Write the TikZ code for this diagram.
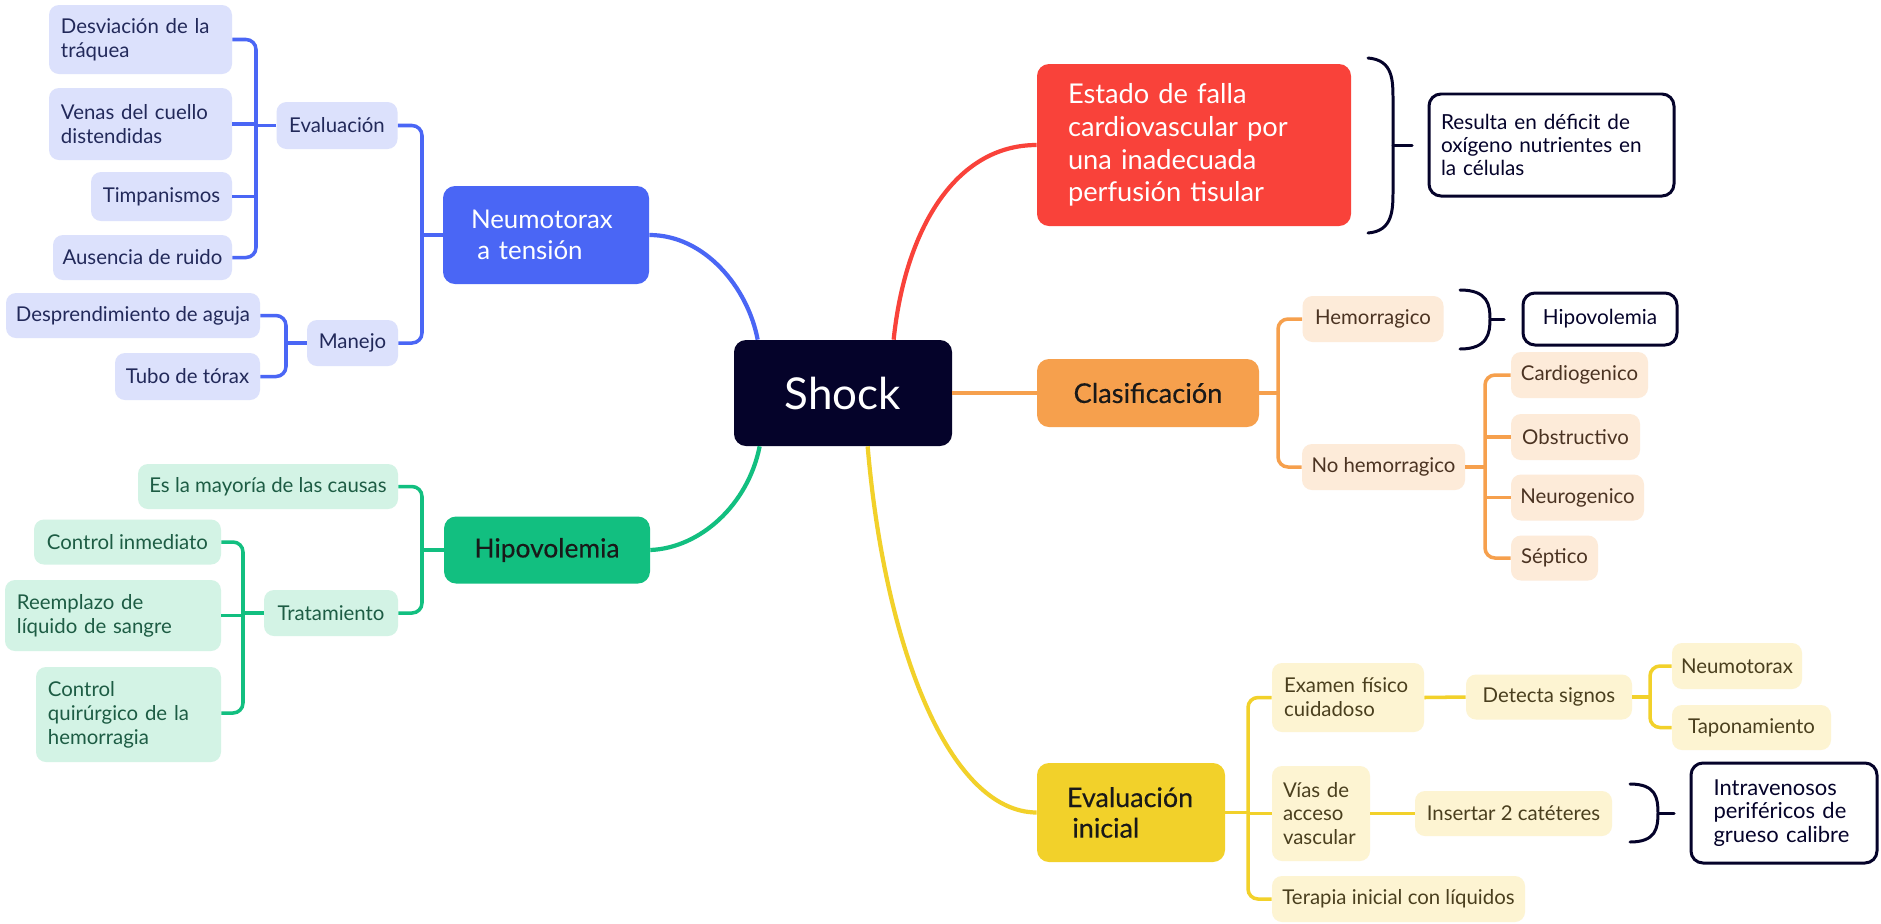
\documentclass[tikz,border=0pt]{standalone}
\usepackage{fontspec}
\setmainfont{Lato}
\newfontfamily\medfont[FakeBold=0.35]{Lato}
\usetikzlibrary{calc}
\definecolor{navy}{HTML}{05032A}
\definecolor{cblue}{HTML}{4A66F5}
\definecolor{cgreen}{HTML}{12BF80}
\definecolor{cred}{HTML}{F9423A}
\definecolor{corange}{HTML}{F6A04D}
\definecolor{cyellow}{HTML}{F2D12A}
\definecolor{lblue}{HTML}{DCE1FC}
\definecolor{lgreen}{HTML}{D3F3E5}
\definecolor{lorange}{HTML}{FDEBD9}
\definecolor{lyellow}{HTML}{FDF4D2}
\definecolor{tblue}{HTML}{22295A}
\definecolor{tgreen}{HTML}{1D5C44}
\definecolor{torange}{HTML}{4B3322}
\definecolor{tyellow}{HTML}{4A3F1E}
\tikzset{
  bx/.style 2 args={minimum width=#1*0.2mm, minimum height=#2*0.2mm, inner sep=0pt, align=left, rounded corners=2mm},
  small/.style={font=\fontsize{11.6}{13.6}\selectfont},
  bch/.style={small, fill=lblue, text=tblue},
  gch/.style={small, fill=lgreen, text=tgreen},
  och/.style={small, fill=lorange, text=torange},
  ych/.style={small, fill=lyellow, text=tyellow},
  outl/.style={draw=navy, line width=1.7pt, fill=white, text=navy, rounded corners=2.4mm},
  tconn/.style={line width=2pt, rounded corners=2mm},
  mconn/.style={line width=2.4pt},
  brk/.style={draw=navy, line width=1.7pt, line cap=round},
}
\begin{document}
\begin{tikzpicture}[x=0.2mm,y=-0.2mm]
\fill[white] (0,0) rectangle (1881,923);
\useasboundingbox (0,0) rectangle (1881,923);

% ---- centre
\node[bx={218}{106}, fill=navy, text=white, font=\fontsize{25}{30}\selectfont, rounded corners=2.4mm] (shock) at (843,393) {Shock};

% ---- blue branch
\node[bx={206}{98}, fill=cblue, text=white, font=\fontsize{14.7}{18}\selectfont, text width=30mm, rounded corners=2.4mm] (neumo) at (546,235) {Neumotorax\\\hspace*{0.25em}a tensión};
\node[bx={121}{47}, bch] (evalb) at (337,125.5) {Evaluación};
\node[bx={91}{46}, bch] (manejo) at (352.5,343) {Manejo};
\node[bx={183}{69}, bch, text width=31.8mm] (desv) at (140.5,39.5) {Desviación de la\\tráquea};
\node[bx={183}{72}, bch, text width=31.8mm] (venas) at (140.5,124) {Venas del cuello\\distendidas};
\node[bx={141}{49}, bch] (timp) at (161.5,196.5) {Timpanismos};
\node[bx={179}{45}, bch] (ausen) at (142.5,257.5) {Ausencia de ruido};
\node[bx={254}{45}, bch] (despr) at (133,315.5) {Desprendimiento de aguja};
\node[bx={145}{47}, bch] (tubo) at (187.5,376.5) {Tubo de tórax};

% ---- green branch
\node[bx={206}{67}, fill=cgreen, text=black!90, font=\medfont\fontsize{15}{17.6}\selectfont, rounded corners=2.4mm] (hipo) at (547,550) {Hipovolemia};
\node[bx={260}{45}, gch] (mayor) at (268,486.5) {Es la mayoría de las causas};
\node[bx={134}{46}, gch] (trat) at (331,613) {Tratamiento};
\node[bx={187}{45}, gch] (ctrl) at (127.5,542) {Control inmediato};
\node[bx={216}{71}, gch, text width=38.4mm] (reemp) at (113,615.5) {Reemplazo de\\líquido de sangre};
\node[bx={185}{95}, gch, text width=32.2mm] (quir) at (128.5,714.5) {Control\\quirúrgico de la\\hemorragia};

% ---- red branch
\node[bx={314}{162}, fill=cred, text=white, font=\fontsize{15.5}{18.7}\selectfont, text width=50.4mm, rounded corners=2.4mm] (estado) at (1194,145) {Estado de falla\\cardiovascular por\\una inadecuada\\perfusión tisular};
\node[bx={245}{102}, outl, font=\fontsize{11.8}{13.2}\selectfont, text width=44.2mm] (resulta) at (1551.5,145) {Resulta en déficit de\\oxígeno nutrientes en\\la células};

% ---- orange branch
\node[bx={222}{68}, fill=corange, text=black!90, font=\medfont\fontsize{15.5}{18}\selectfont, rounded corners=2.4mm] (clas) at (1148,393) {Clasificación};
\node[bx={141}{46}, och] (hemo) at (1373,319) {Hemorragico};
\node[bx={154}{52}, outl, font=\fontsize{11.8}{13.2}\selectfont] (hipo2) at (1600,319) {Hipovolemia};
\node[bx={163}{46}, och] (nohemo) at (1383.5,467) {No hemorragico};
\node[bx={137}{46}, och] (cardio) at (1579.5,375) {Cardiogenico};
\node[bx={129}{46}, och] (obstr) at (1575.5,437) {Obstructivo};
\node[bx={133}{46}, och] (neuro) at (1577.5,497.5) {Neurogenico};
\node[bx={87}{45}, och] (septico) at (1554.5,558) {Séptico};

% ---- yellow branch
\node[bx={188}{99}, fill=cyellow, text=black!90, font=\medfont\fontsize{15.3}{17.4}\selectfont, text width=25.6mm, rounded corners=2.4mm] (evali) at (1131,812.5) {Evaluación\\\hspace*{0.2em}inicial};
\node[bx={152}{69}, ych, text width=25.6mm] (examen) at (1348,697.5) {Examen físico\\cuidadoso};
\node[bx={166}{45}, ych] (detecta) at (1549,697) {Detecta signos};
\node[bx={130}{46}, ych] (neumo2) at (1737,666) {Neumotorax};
\node[bx={159}{45}, ych] (tapon) at (1751.5,727.5) {Taponamiento};
\node[bx={98}{95}, ych, text width=15.2mm] (vias) at (1321,813.5) {Vías de\\acceso\\vascular};
\node[bx={197}{45}, ych] (insert) at (1513.5,813.5) {Insertar 2 catéteres};
\node[bx={186}{100}, outl, font=\fontsize{12.5}{13.4}\selectfont, text width=28.2mm] (intra) at (1784,813) {Intravenosos\\periféricos de\\grueso calibre};
\node[bx={253}{46}, ych] (terapia) at (1398.5,899) {Terapia inicial con líquidos};

% ---- trunk x positions
\coordinate (tA) at (256,0);
\coordinate (tB) at (286,0);
\coordinate (tC) at (422,0);
\coordinate (tD) at (422,0);
\coordinate (tE) at (243,0);
\coordinate (tF) at (1278,0);
\coordinate (tG) at (1485,0);
\coordinate (tH) at (1248,0);
\coordinate (tI) at (1650,0);

% ---- blue tree
\begin{scope}[draw=cblue]
\draw[tconn] (desv.east) -- (desv.east -| tA) -- (ausen.east -| tA) -- (ausen.east);
\draw[tconn] (venas.east) -- (venas.east -| tA);
\draw[tconn] (timp.east) -- (timp.east -| tA);
\draw[tconn] (evalb.west) -- (evalb.west -| tA);
\draw[tconn] (despr.east) -- (despr.east -| tB) -- (tubo.east -| tB) -- (tubo.east);
\draw[tconn] (manejo.west) -- (manejo.west -| tB);
\draw[tconn] (evalb.east) -- (evalb.east -| tC) -- (manejo.east -| tC) -- (manejo.east);
\draw[tconn] (neumo.west) -- (neumo.west -| tC);
\end{scope}

% ---- green tree
\begin{scope}[draw=cgreen]
\draw[tconn] (mayor.east) -- (mayor.east -| tD) -- (trat.east -| tD) -- (trat.east);
\draw[tconn] (hipo.west) -- (hipo.west -| tD);
\draw[tconn] (ctrl.east) -- (ctrl.east -| tE) -- ($(quir.east -| tE)+(0,-1.5)$) -- ($(quir.east)+(0,-1.5)$);
\draw[tconn] (reemp.east) -- (reemp.east -| tE);
\draw[tconn] (trat.west) -- (trat.west -| tE);
\end{scope}

% ---- orange tree
\begin{scope}[draw=corange]
\draw[tconn] (shock.east) -- (clas.west);
\draw[tconn] (hemo.west) -- (hemo.west -| tF) -- (nohemo.west -| tF) -- (nohemo.west);
\draw[tconn] (clas.east) -- (clas.east -| tF);
\draw[tconn] (cardio.west) -- (cardio.west -| tG) -- (septico.west -| tG) -- (septico.west);
\draw[tconn] (obstr.west) -- (obstr.west -| tG);
\draw[tconn] (neuro.west) -- (neuro.west -| tG);
\draw[tconn] (nohemo.east) -- (nohemo.east -| tG);
\end{scope}

% ---- yellow tree
\begin{scope}[draw=cyellow]
\draw[tconn] (examen.west) -- (examen.west -| tH) -- (terapia.west -| tH) -- (terapia.west);
\draw[tconn] (vias.west) -- (vias.west -| tH);
\draw[tconn] (evali.east) -- (evali.east -| tH);
\draw[tconn] (examen.east) -- (detecta.west);
\draw[tconn] (neumo2.west) -- (neumo2.west -| tI) -- (tapon.west -| tI) -- (tapon.west);
\draw[tconn] (detecta.east) -- (detecta.east -| tI);
\draw[tconn] (vias.east) -- (insert.west);
\end{scope}

% ---- main curves
\draw[mconn, cblue] (neumo.east) .. controls (705,235) and (748,288) .. ($(shock.north west)+(24,0)$);
\draw[mconn, cgreen] ($(shock.south west)+(26,0)$) .. controls (748,505) and (700,548) .. (hipo.east);
\draw[mconn, cred] ($(shock.north west)+(160,0)$) .. controls (905,230) and (955,145) .. (estado.west);
\draw[mconn, cyellow] ($(shock.south west)+(134,0)$) .. controls (885,650) and (950,812) .. (evali.west);

% ---- brackets
\draw[brk] (1368,58) .. controls (1393,60) and (1393,80) .. (1393,100) -- (1393,190) .. controls (1393,210) and (1393,231) .. (1368,233);
\draw[brk] (1393,145) -- (1412,145);
\draw[brk] (1460,290) .. controls (1488,290) and (1490,305) .. (1490,319) .. controls (1490,333) and (1488,349) .. (1460,349);
\draw[brk] (1490,319) -- (1504,319);
\draw[brk] (1630,784) .. controls (1656,784) and (1658,798) .. (1658,813) .. controls (1658,828) and (1656,842) .. (1630,842);
\draw[brk] (1658,813) -- (1674,813);
\end{tikzpicture}
\end{document}
